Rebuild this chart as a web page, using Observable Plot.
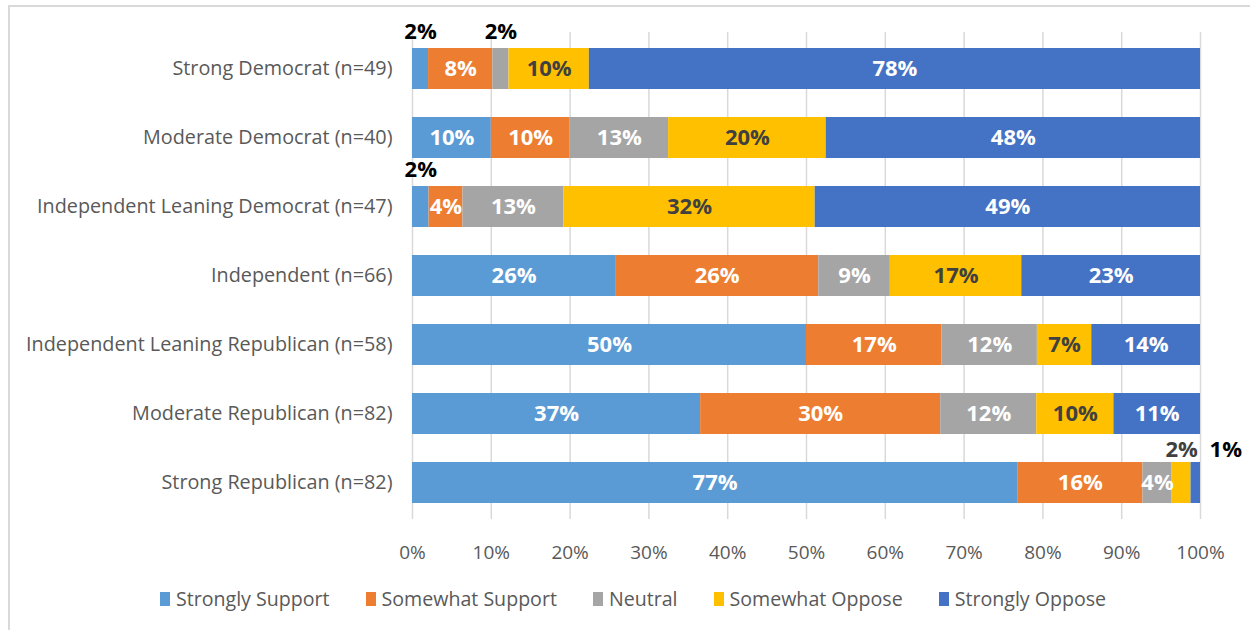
<!DOCTYPE html>
<html>
<head>
<meta charset="utf-8">
<script src="https://cdn.jsdelivr.net/npm/d3@7"></script>
<script src="https://cdn.jsdelivr.net/npm/@observablehq/plot@0.6"></script>
<style>
  html, body { margin: 0; padding: 0; background: #fff; overflow: hidden; }
  body { width: 1250px; height: 630px; position: relative; font-family: "Open Sans", Lato, sans-serif; }
  #frame { position: absolute; left: 8px; top: 5px; width: 1400px; height: 800px; border: 2px solid #d9d9d9; box-sizing: border-box; }
  #chart { position: absolute; left: 0; top: 0; }
  #legend { position: absolute; left: 160px; top: 585px; display: flex; font-size: 19.6px; color: #595959; white-space: nowrap; }
  .item { display: flex; align-items: center; margin-right: 36px; }
  .sw { width: 10px; height: 14px; margin-right: 6px; display: inline-block; }
</style>
</head>
<body>
<div id="frame"></div>
<div id="chart"></div>
<div id="legend"></div>
<script>
const categories = [
  "Strong Democrat (n=49)",
  "Moderate Democrat (n=40)",
  "Independent Leaning Democrat (n=47)",
  "Independent (n=66)",
  "Independent Leaning Republican (n=58)",
  "Moderate Republican (n=82)",
  "Strong Republican (n=82)"
];
const seriesNames = ["Strongly Support", "Somewhat Support", "Neutral", "Somewhat Oppose", "Strongly Oppose"];
const seriesColors = ["#5B9BD5", "#ED7D31", "#A5A5A5", "#FFC000", "#4472C4"];

// percentages per category (same order as categories)
const stronglySupport = [2.04, 10.0, 2.1, 25.8, 50.0, 36.6, 76.8];
const somewhatSupport = [8.16, 10.0, 4.3, 25.8, 17.2, 30.49, 15.9];
const neutral         = [2.04, 12.5, 12.8, 9.1, 12.1, 12.2, 3.7];
const somewhatOppose  = [10.2, 20.0, 31.9, 16.7, 6.9, 9.8, 2.4];
const stronglyOppose  = [77.55, 47.5, 48.9, 22.7, 13.8, 11.0, 1.2];

const xTicks = [0, 10, 20, 30, 40, 50, 60, 70, 80, 90, 100];

const seriesValues = [stronglySupport, somewhatSupport, neutral, somewhatOppose, stronglyOppose];
const data = [];
categories.forEach((c, i) => {
  seriesNames.forEach((s, j) => {
    data.push({category: c, series: s, value: seriesValues[j][i]});
  });
});

const SMALL = 3;
const lbl = d => Math.round(d.value) + "%";
const stackOpts = (extra) => Plot.stackX({x: "value", y: "category", z: "series", offset: "normalize", ...extra});
const LF = 22;

const plot = Plot.plot({
  width: 1250,
  height: 570,
  marginTop: 32,
  marginBottom: 51,
  marginLeft: 412,
  marginRight: 50,
  style: {fontFamily: "'Open Sans', Lato, sans-serif", background: "transparent"},
  x: {domain: [0, 1], ticks: xTicks.map(t => t / 100), tickFormat: d => Math.round(d * 100) + "%", label: null},
  y: {domain: categories, paddingInner: 0.4, paddingOuter: 0.2, label: null},
  color: {domain: seriesNames, range: seriesColors},
  marks: [
    Plot.gridX(xTicks.map(t => t / 100), {stroke: "#d9d9d9", strokeOpacity: 1, strokeWidth: 1.5}),
    Plot.barX(data, stackOpts({fill: "series"})),
    // inside labels, white
    Plot.text(data, stackOpts({
      text: d => (d.value >= SMALL && d.series !== "Somewhat Oppose") ? lbl(d) : "",
      fill: "white", fontWeight: "bold", fontSize: LF
    })),
    // inside labels, dark on yellow
    Plot.text(data, stackOpts({
      text: d => (d.value >= SMALL && d.series === "Somewhat Oppose") ? lbl(d) : "",
      fill: "#404040", fontWeight: "bold", fontSize: LF
    })),
    // outside labels above bars
    Plot.text(data, stackOpts({
      text: d => (d.value < SMALL && d.series !== "Somewhat Oppose" && d.series !== "Strongly Oppose") ? lbl(d) : "",
      fill: "black", fontWeight: "bold", fontSize: LF, dy: -37
    })),
    Plot.text(data, stackOpts({
      text: d => (d.value < SMALL && d.series === "Somewhat Oppose") ? lbl(d) : "",
      fill: "#404040", fontWeight: "bold", fontSize: LF, dy: -33
    })),
    Plot.text(data, stackOpts({
      text: d => (d.value < SMALL && d.series === "Strongly Oppose") ? lbl(d) : "",
      fill: "black", fontWeight: "bold", fontSize: LF, dy: -33, dx: 30
    })),
    Plot.axisX({ticks: xTicks.map(t => t / 100), tickFormat: d => Math.round(d * 100) + "%", tickSize: 0, tickPadding: 26, fontSize: 19, color: "#595959", label: null}),
    Plot.axisY({tickSize: 0, tickPadding: 20, fontSize: 19.8, color: "#595959", label: null})
  ]
});
document.getElementById("chart").appendChild(plot);

const legend = document.getElementById("legend");
seriesNames.forEach((s, i) => {
  const item = document.createElement("div");
  item.className = "item";
  const sw = document.createElement("span");
  sw.className = "sw";
  sw.style.background = seriesColors[i];
  const t = document.createElement("span");
  t.textContent = s;
  item.appendChild(sw);
  item.appendChild(t);
  legend.appendChild(item);
});
</script>
</body>
</html>
